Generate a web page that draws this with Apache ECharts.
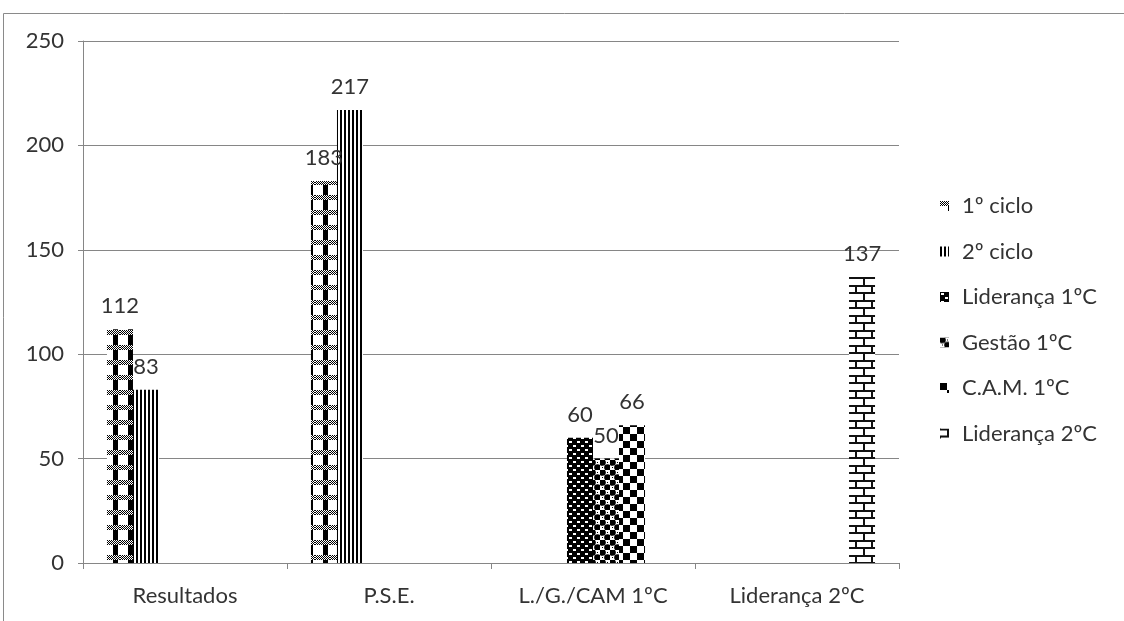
<!DOCTYPE html>
<html>
<head>
<meta charset="utf-8">
<script src="https://cdn.jsdelivr.net/npm/echarts@6/dist/echarts.min.js"></script>
<style>
  html, body { margin: 0; padding: 0; background: #fff; }
  #chart { width: 1124px; height: 621px; }
</style>
</head>
<body>
<div id="chart"></div>
<script>
// Categories and values per series (null = series absent in that group)
const categories = ['Resultados', 'P.S.E.', 'L./G./CAM 1ºC', 'Liderança 2ºC'];
const seriesNames = ['1º ciclo', '2º ciclo', 'Liderança 1ºC', 'Gestão 1ºC', 'C.A.M. 1ºC', 'Liderança 2ºC'];
const ciclo1 = [112, 183, null, null];
const ciclo2 = [83, 217, null, null];
const lideranca1 = [null, null, 60, null];
const gestao1 = [null, null, 50, null];
const cam1 = [null, null, 66, null];
const lideranca2 = [null, null, null, 137];
const yMax = 250;
const yStep = 50;

// Monochrome fill patterns drawn on small tiles
function tile(w, h, draw) {
  const c = document.createElement('canvas');
  c.width = w; c.height = h;
  const g = c.getContext('2d');
  g.fillStyle = '#fff';
  g.fillRect(0, 0, w, h);
  g.fillStyle = '#000';
  draw(g, w, h);
  return { image: c, repeat: 'repeat' };
}

const patterns = [
  // ladder: black posts with fine checkered rungs
  tile(15, 15, (g) => {
    for (let y = 0; y < 5; y++)
      for (let x = 0; x < 15; x++)
        if ((x + y) % 2 === 0) g.fillRect(x, y, 1, 1);
    g.fillRect(8, 5, 5, 10);
  }),
  // dense vertical lines
  tile(4, 4, (g) => { g.fillRect(0, 0, 2, 4); }),
  // black with small staggered white dashes
  tile(8, 8, (g) => {
    g.fillRect(0, 0, 8, 8);
    g.fillStyle = '#fff';
    g.fillRect(1, 1, 3, 2);
    g.fillRect(5, 5, 3, 2);
  }),
  // staggered round blots
  tile(10, 10, (g) => {
    g.beginPath(); g.arc(2.5, 2.5, 3.3, 0, Math.PI * 2); g.fill();
    g.beginPath(); g.arc(7.5, 7.5, 3.3, 0, Math.PI * 2); g.fill();
    g.fillRect(7, 2, 1, 1);
    g.fillRect(2, 7, 1, 1);
  }),
  // large checkerboard
  tile(14, 14, (g) => {
    g.fillRect(0, 0, 7, 7);
    g.fillRect(7, 7, 7, 7);
  }),
  // brick wall
  tile(16, 15, (g) => {
    g.fillStyle = '#111';
    g.fillRect(0, 0, 16, 2);
    g.fillRect(0, 7, 16, 2);
    g.fillRect(7, 2, 2, 5);
    g.fillRect(0, 9, 1, 6);
    g.fillRect(15, 9, 1, 6);
  })
];

const seriesData = [ciclo1, ciclo2, lideranca1, gestao1, cam1, lideranca2];
const FONT = 'Lato, "Open Sans", sans-serif';
const TEXT = '#333';
const LINE = '#868686';

const chart = echarts.init(document.getElementById('chart'), null, { renderer: 'canvas' });
chart.setOption({
  animation: false,
  backgroundColor: '#fff',
  textStyle: { fontFamily: FONT },
  graphic: [{
    type: 'rect',
    shape: { x: 3.5, y: 13.5, width: 1200, height: 700 },
    style: { fill: 'none', stroke: '#8a8a8a', lineWidth: 1 },
    silent: true,
    z: -1
  }],
  grid: { left: 83, right: 225, top: 41, bottom: 58, containLabel: false },
  legend: {
    orient: 'vertical',
    left: 935,
    top: 189,
    itemWidth: 9,
    itemHeight: 10,
    itemGap: 21.5,
    icon: 'rect',
    data: seriesNames,
    textStyle: { fontFamily: FONT, fontSize: 22, color: TEXT, lineHeight: 24, padding: [0, 0, 0, 8] }
  },
  xAxis: {
    type: 'category',
    data: categories,
    axisLine: { lineStyle: { color: LINE, width: 1 } },
    axisTick: { show: true, length: 6, lineStyle: { color: LINE } },
    axisLabel: { fontFamily: FONT, fontSize: 22, color: TEXT, margin: 22 }
  },
  yAxis: {
    type: 'value',
    min: 0,
    max: yMax,
    interval: yStep,
    axisLine: { show: true, lineStyle: { color: LINE, width: 1 } },
    axisTick: { show: true, length: 5, lineStyle: { color: LINE } },
    splitLine: { lineStyle: { color: LINE, width: 1 } },
    axisLabel: { fontFamily: FONT, fontSize: 22, color: TEXT, margin: 19 }
  },
  series: seriesNames.map((name, i) => ({
    name,
    type: 'bar',
    data: seriesData[i],
    barGap: '0%',
    barCategoryGap: '23.5%',
    itemStyle: { color: patterns[i] },
    label: {
      show: true,
      position: 'top',
      distance: 12,
      fontFamily: FONT,
      fontSize: 22,
      color: TEXT
    }
  }))
});
</script>
</body>
</html>
